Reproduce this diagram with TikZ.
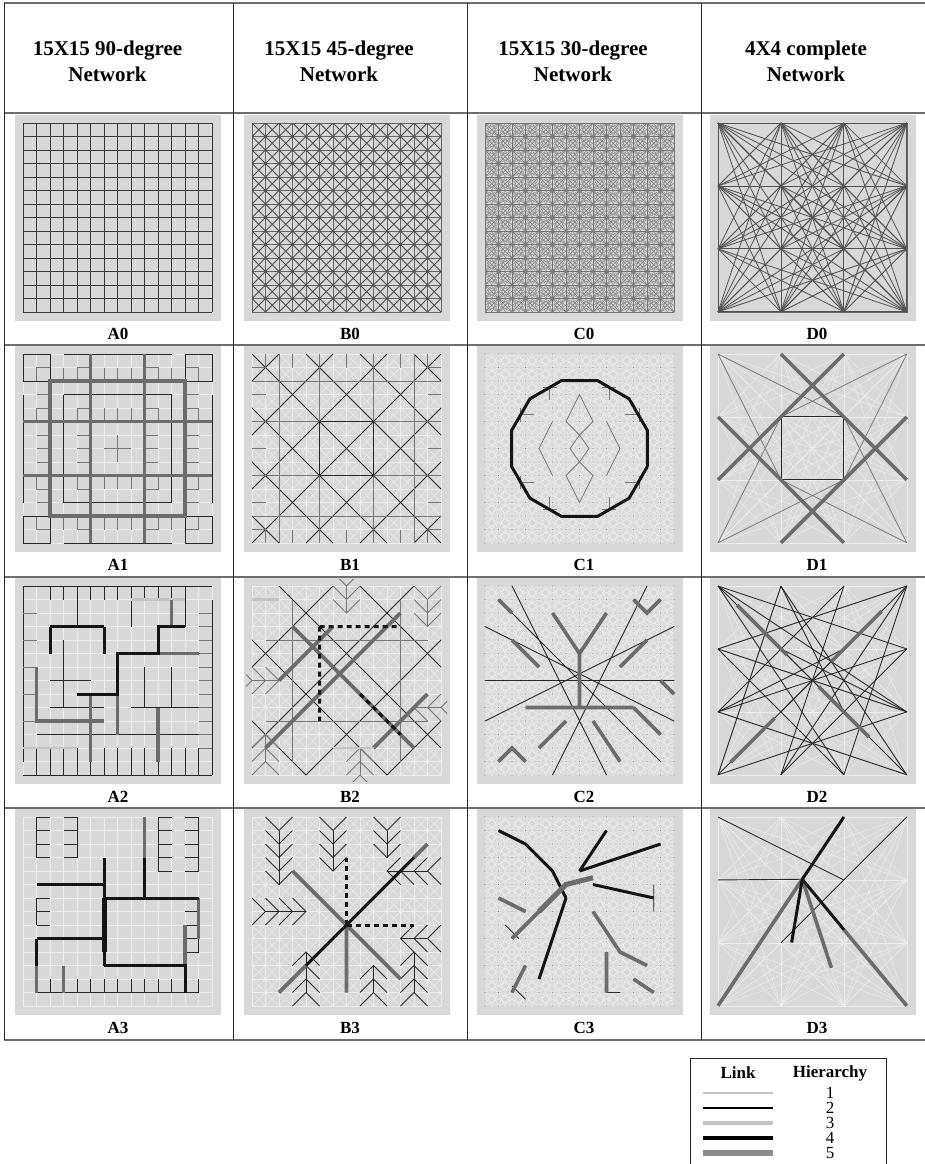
\documentclass[tikz,border=0pt]{standalone}
\usepackage{fontspec}
\setmainfont{Liberation Serif}
\usetikzlibrary{calc}
\definecolor{panelfill}{RGB}{216,216,216}
\definecolor{rulegray}{RGB}{110,110,110}
\definecolor{linkdark}{RGB}{40,40,40}
\definecolor{linkmid}{RGB}{85,85,85}
\definecolor{linklight}{RGB}{236,236,236}
\definecolor{linkgray}{RGB}{108,108,108}
\definecolor{linkpale}{RGB}{196,196,196}
\definecolor{legendgray}{RGB}{140,140,140}
\tikzset{
 tablerule/.style={rulegray,line width=1.3pt},
 colrule/.style={black!85,line width=0.9pt},
 basenet/.style={black!78,line width=1pt},
 faintnet/.style={linklight,line width=0.5pt},
 htwo/.style={linkdark,line width=0.9pt},
 hmid/.style={linkmid!80!white,line width=0.8pt},
 hthree/.style={linkpale,line width=2.4pt},
 hfour/.style={black!92,line width=3pt},
 hfive/.style={linkgray,line width=3.6pt},
 legone/.style={linkpale,line width=1.5pt},
 legtwo/.style={black,line width=1.5pt},
 legthree/.style={linkpale,line width=4pt},
 legfour/.style={black,line width=4.5pt},
 legfive/.style={legendgray,line width=5.5pt},
 headtext/.style={font=\bfseries\fontsize{21}{26}\selectfont,align=center,inner sep=0pt},
 celltext/.style={font=\bfseries\fontsize{17}{19}\selectfont,inner sep=0pt},
 legendtext/.style={font=\fontsize{17}{17}\selectfont,inner sep=0pt}
}
% base networks, in grid units 0..14
\newcommand{\gridnet}[1]{\foreach \i in {0,...,14}{\draw[#1] (\i,0)--(\i,14); \draw[#1] (0,\i)--(14,\i);}}
\newcommand{\diagnet}[1]{\begin{scope}\clip (0,0) rectangle (14,14);
 \foreach \c in {-14,...,14}{\draw[#1] (\c,0)--++(14,14);}
 \foreach \c in {0,...,28}{\draw[#1] (\c,0)--++(-14,14);}\end{scope}}
\newcommand{\knightnet}[1]{\begin{scope}\clip (0,0) rectangle (14,14);
 \foreach \c in {-28,...,14}{\draw[#1] (\c,0)--++(28,14); \draw[#1] (0,\c)--++(14,28);}
 \foreach \c in {0,...,42}{\draw[#1] (\c,0)--++(-28,14); \draw[#1] (0,\c)--++(14,-28);}\end{scope}}
\newcommand{\dnodes}{\foreach \a in {0,...,15}{\coordinate (d\a) at ({mod(\a,4)*14/3},{floor(\a/4)*14/3});}}
\newcommand{\completenet}[1]{\foreach \a in {0,...,15}{\foreach \b in {\a,...,15}{\draw[#1] (d\a)--(d\b);}}}
\newcommand{\nodedots}{\foreach \i in {0,...,14}{\foreach \j in {0,...,14}{\fill[black!45] (\i,\j) circle (0.05);}}}
\newcommand{\foursym}[1]{\foreach \sx/\sy in {1/1,-1/1,1/-1,-1/-1}{\begin{scope}[shift={(7,7)},xscale=\sx,yscale=\sy,shift={(-7,-7)}]#1\end{scope}}}
\newcommand{\fishbone}[5]{\draw[#5] (#1,#2)--(#1,#3);
 \foreach \yy in {#2,...,#3}{\draw[#5] ({#1-1},{\yy+(#4)})--(#1,\yy)--({#1+1},{\yy+(#4)});}}
\newcommand{\hfishbone}[5]{\draw[#5] (#2,#1)--(#3,#1);
 \foreach \xx in {#2,...,#3}{\draw[#5] ({\xx+(#4)},{#1-1})--(\xx,#1)--({\xx+(#4)},{#1+1});}}
\newcommand{\vcomb}[5]{\draw[#5] (#1,#2)--(#1,#3);
 \foreach \yy in {#2,...,#3}{\draw[#5] (#1,\yy)--({#1+(#4)},\yy);}}
\newcommand{\hcomb}[5]{\draw[#5] (#2,#1)--(#3,#1);
 \foreach \xx in {#2,...,#3}{\draw[#5] (\xx,#1)--(\xx,{#1+(#4)});}}

\begin{document}
\begin{tikzpicture}[x=1pt,y=-1pt]
\useasboundingbox (0,0) rectangle (925,1164);
\fill[white] (0,0) rectangle (925,1164);

% table
\foreach \ry in {3,113,345,577,808,1040}
 \draw[tablerule] (4,\ry)--(925,\ry);
\foreach \rx in {4.5,233.5,467,701}
 \draw[colrule] (\rx,3)--(\rx,1040);
\node[headtext] (headA) at (107.5,61) {15X15 90-degree\\Network};
\node[headtext] (headB) at (339,61) {15X15 45-degree\\Network};
\node[headtext] (headC) at (573,61) {15X15 30-degree\\Network};
\node[headtext] (headD) at (806,61) {4X4 complete\\Network};
\foreach \col/\cx in {A/118,B/350,C/584,D/817}
 \foreach \row/\ly in {0/334,1/565,2/797,3/1028}
  \node[celltext] (lab\col\row) at (\cx,\ly) {\col\row};
\foreach \px in {15,244,477,710}
 \foreach \py in {115,346,578,809}
  \fill[panelfill] (\px,\py) rectangle ++(206,206);

% row 0: full networks
\begin{scope}[shift={(23,123)},scale=13.5]
 \gridnet{basenet}
\end{scope}
\begin{scope}[shift={(252,123)},scale=13.5]
 \gridnet{black!60,line width=0.7pt}
 \diagnet{black!70,line width=0.8pt}
\end{scope}
\begin{scope}[shift={(485,123)},scale=13.5]
 \gridnet{black!55,line width=0.45pt}
 \diagnet{black!55,line width=0.45pt}
 \knightnet{black!50,line width=0.4pt}
\end{scope}
\begin{scope}[shift={(718,123)},scale=13.5]
 \dnodes
 \draw[black!60,line width=0.6pt] (d0) rectangle (d15);
 \completenet{black!68,line width=0.8pt}
\end{scope}

% row 1: symmetric hierarchies
\begin{scope}[shift={(23,354)},scale=13.5]
 \clip (-0.45,-0.45) rectangle (14.45,14.45);
 \gridnet{faintnet}
 \foursym{
  \draw[hmid] (2,1)--(1,1)--(1,2) (3,1)--(3,2) (4,2)--(4,1)--(5,1) (6,1)--(6,2) (7,1)--(7,2)
   (1,3)--(2,3) (2,4)--(1,4)--(1,5) (1,6)--(2,6) (1,7)--(2,7)
   (5,4)--(4,4)--(4,5) (6,4)--(6,5) (7,4)--(7,5) (4,6)--(5,6) (4,7)--(5,7) (6,7)--(7,7) (7,6)--(7,7);
  \draw[htwo] (0,0) rectangle (2,2) (3,0)--(7,0) (0,3)--(0,7) (3,3)--(7,3) (3,3)--(3,7);
 }
 \draw[hfive] (2,2) rectangle (12,12) (5,0)--(5,14) (9,0)--(9,14) (0,5)--(14,5) (0,9)--(14,9);
\end{scope}
\begin{scope}[shift={(252,354)},scale=13.5]
 \clip (-0.45,-0.45) rectangle (14.45,14.45);
 \gridnet{faintnet}
 \diagnet{faintnet}
 \begin{scope}
  \clip (0,0) rectangle (14,14);
  \foreach \c in {-12,-8,...,12}{\draw[htwo] (\c,0)--++(14,14);}
  \foreach \c in {2,6,...,26}{\draw[htwo] (\c,0)--++(-14,14);}
 \end{scope}
 \draw[hmid] (2,0)--(2,14) (12,0)--(12,14) (0,2)--(14,2) (0,12)--(14,12)
  (5,1)--(5,13) (9,1)--(9,13) (1,5)--(13,5) (1,9)--(13,9);
 \draw[htwo] (5,5) rectangle (9,9);
 \foreach \k in {1,3,...,13}{
  \draw[hmid] (\k,0)--(\k,1) (\k,14)--(\k,13) (0,\k)--(1,\k) (14,\k)--(13,\k);}
\end{scope}
\begin{scope}[shift={(485,354)},scale=13.5]
 \clip (-0.45,-0.45) rectangle (14.45,14.45);
 \knightnet{faintnet}
 \nodedots
 \draw[hmid] (7,3)--(6,5)--(7,6)--(8,5)--cycle (7,6)--(6.3,7)--(7,8)--(7.7,7)--cycle
  (7,8)--(6,9)--(7,11)--(8,9)--cycle (5,5)--(4,7)--(5,9) (9,5)--(10,7)--(9,9);
 \foursym{\draw[hmid] (2.6,4)--(2.6,5) (2.6,4.5)--(3.6,4.5) (4.3,2.5)--(5.3,2.5) (4.8,2.5)--(4.8,3.4);}
 \draw[hfour] plot[samples at={15,45,...,375}] ({7+5.2*cos(\x)},{7+5.2*sin(\x)});
\end{scope}
\begin{scope}[shift={(718,354)},scale=13.5]
 \clip (-0.45,-0.45) rectangle (14.45,14.45);
 \dnodes
 \completenet{faintnet}
 \draw[htwo] (d5)--(d6)--(d10)--(d9)--cycle;
 \draw[hmid] (d0)--(d6) (d0)--(d9) (d3)--(d5) (d3)--(d10) (d12)--(d5) (d12)--(d10) (d15)--(d6) (d15)--(d9);
 \draw[hfive] (d1)--(d11) (d2)--(d8) (d4)--(d14) (d7)--(d13);
\end{scope}

% row 2: second hierarchy
\begin{scope}[shift={(23,586)},scale=13.5]
 \clip (-0.45,-0.45) rectangle (14.45,14.45);
 \gridnet{faintnet}
 \draw[htwo] (0,0)--(14,0) (0,0)--(0,13) (0,14)--(14,14) (14,1)--(14,14);
 \foreach \x in {2,...,12}{\draw[htwo] (\x,0)--(\x,1);}
 \foreach \x in {1,...,13}{\draw[htwo] (\x,14)--(\x,12);}
 \foreach \y in {2,4,...,12}{\draw[hmid] (0,\y)--(1,\y);}
 \foreach \y in {2,...,12}{\draw[hmid] (14,\y)--(13,\y);}
 \draw[htwo] (1,11)--(13,11) (2,9)--(6,9) (8,9)--(13,9) (3,4)--(3,9) (9,6)--(9,9) (11,6)--(11,9)
  (12,3)--(12,1) (4,1)--(4,3) (8,1)--(8,3) (2,7)--(5,7);
 \draw[hthree] (0,12)--(4,12) (8,1)--(12,1);
 \draw[hfive] (1,6)--(1,10)--(6,10) (7,8)--(7,11) (10,5)--(13,5) (5,8)--(5,13) (10,9)--(10,13) (11,3)--(11,1);
 \draw[hfour] (2,3)--(6,3) (2,3)--(2,5) (6,3)--(6,5) (4,8)--(7,8)--(7,5)--(10,5)--(10,3)--(12,3);
\end{scope}
\begin{scope}[shift={(252,586)},scale=13.5]
 \clip (-0.45,-0.45) rectangle (14.45,14.45);
 \gridnet{faintnet}
 \diagnet{faintnet}
 \begin{scope}
  \clip (0,0) rectangle (14,14);
  \foreach \c in {-10,-4,2,8}{\draw[htwo] (\c,0)--++(14,14);}
  \foreach \c in {6,12,18,24}{\draw[htwo] (\c,0)--++(-14,14);}
 \end{scope}
 \draw[hmid] (3,1)--(3,13) (11,1)--(11,13) (1,10)--(13,10) (1,4)--(13,4);
 \fishbone{7}{0}{2}{-1}{hmid}
 \fishbone{13}{1}{3}{-1}{hmid}
 \fishbone{1}{13}{11}{1}{hmid}
 \fishbone{8}{14}{12}{1}{hmid}
 \hfishbone{7}{0}{2}{-1}{hmid}
 \hfishbone{9}{14}{12}{1}{hmid}
 \draw[hfive] (1,12)--(11,2) (3,3)--(12,12) (2,7)--(6,3) (9,12)--(13,8);
 \draw[hthree] (6,12)--(9,12) (0,1)--(2,1);
 \draw[hfour,dash pattern=on 5pt off 4pt] (5,3)--(11,3) (5,3)--(5,10) (8,8)--(11,11);
\end{scope}
\begin{scope}[shift={(485,586)},scale=13.5]
 \clip (-0.45,-0.45) rectangle (14.45,14.45);
 \knightnet{faintnet}
 \nodedots
 \draw[htwo] (0,3)--(14,10) (0,10)--(14,3) (2,0)--(9,14) (12,0)--(5,14) (0,7)--(14,7) (1,1)--(13,13);
 \draw[hfive] (5,2)--(7,5)--(9,2) (7,5)--(7,9) (3,9)--(7,9)--(11,9) (2,4)--(4,6) (10,6)--(12,4)
  (4,12)--(6,10) (8,10)--(10,13) (11,9)--(13,11) (1,13)--(2,12)--(3,13) (11,1)--(12,2)--(13,1)
  (1,1)--(2,2) (13,7)--(14,8);
\end{scope}
\begin{scope}[shift={(718,586)},scale=13.5]
 \clip (-0.45,-0.45) rectangle (14.45,14.45);
 \dnodes
 \completenet{faintnet}
 \foreach \a/\b in {0/7,0/14,1/12,1/15,2/8,2/13,3/4,3/13,4/11,7/8,8/15,11/12,6/12,5/15,1/10,13/7,14/4,5/11,6/8,0/11,3/14,9/3,10/0}
  {\draw[htwo] (d\a)--(d\b);}
 \draw[hfive] ($(d0)!0.15!(d10)$)--($(d0)!0.55!(d10)$) ($(d3)!0.2!(d9)$)--($(d3)!0.6!(d9)$)
  ($(d12)!0.1!(d6)$)--($(d12)!0.45!(d6)$) ($(d15)!0.3!(d5)$)--($(d15)!0.7!(d5)$);
\end{scope}

% row 3: top hierarchy
\begin{scope}[shift={(23,817)},scale=13.5]
 \clip (-0.45,-0.45) rectangle (14.45,14.45);
 \gridnet{faintnet}
 \vcomb{1}{0}{3}{1}{htwo}
 \vcomb{4}{0}{3}{-1}{htwo}
 \vcomb{10}{0}{4}{1}{htwo}
 \vcomb{13}{0}{4}{-1}{htwo}
 \vcomb{1}{6}{8}{1}{htwo}
 \vcomb{13}{7}{10}{-1}{htwo}
 \hcomb{13}{1}{13}{-1}{htwo}
 \draw[hfive] (3,11)--(3,13) (12,8)--(12,11) (9,0)--(9,3) (1,11)--(1,13) (13,6)--(13,9);
 \draw[hfour] (1,5)--(6,5) (6,3)--(6,11) (6,6)--(13,6) (9,3)--(9,6) (1,9)--(6,9) (1,9)--(1,11)
  (6,11)--(12,11)--(12,13);
 \draw[hfour,line width=5pt] (6,6)--(6,10);
\end{scope}
\begin{scope}[shift={(252,817)},scale=13.5]
 \clip (-0.45,-0.45) rectangle (14.45,14.45);
 \gridnet{faintnet}
 \diagnet{faintnet}
 \fishbone{2}{1}{5}{-1}{htwo}
 \fishbone{6}{1}{4}{-1}{htwo}
 \fishbone{10}{1}{3}{-1}{htwo}
 \fishbone{4}{13}{10}{1}{htwo}
 \fishbone{9}{13}{11}{1}{htwo}
 \fishbone{12}{13}{10}{1}{htwo}
 \hfishbone{7}{1}{4}{-1}{htwo}
 \hfishbone{4}{13}{10}{1}{htwo}
 \hfishbone{9}{13}{11}{1}{htwo}
 \draw[hfive] (7,8)--(3,4) (7,8)--(11,12) (4,11)--(2,13) (12,3)--(13,2) (7,8)--(7,13);
 \draw[hfour] (7,8)--(12,3) (7,8)--(4,11);
 \draw[hfour,dash pattern=on 5pt off 4pt] (7,8)--(12,8) (7,8)--(7,3);
\end{scope}
\begin{scope}[shift={(485,817)},scale=13.5]
 \clip (-0.45,-0.45) rectangle (14.45,14.45);
 \knightnet{faintnet}
 \nodedots
 \draw[htwo] (12.5,5)--(12.5,7) (1.5,8)--(2.5,9) (9,13)--(10,13) (2,12.5)--(3,13.5);
 \draw[hfive] (8,7)--(10,10)--(12,11) (2,9)--(4,7) (9,10)--(9,13) (3,11)--(2,13) (1,6)--(3,7) (11,12)--(12.5,13);
 \draw[hfour] (1,1)--(3,2)--(5,4)--(6,6) (7,4)--(13,2) (7,4)--(9,1) (8,5)--(12.5,6) (6,6)--(5,9)--(4,12);
 \draw[hfive,line width=5pt] (4,7)--(6,5)--(8,4.5);
\end{scope}
\begin{scope}[shift={(718,817)},scale=13.5]
 \clip (-0.45,-0.45) rectangle (14.45,14.45);
 \dnodes
 \completenet{faintnet}
 \coordinate (hub) at ($(d2)!0.33!(d12)$);
 \draw[htwo] (d0)--(d6) (d3)--(d9) (d4)--(hub);
 \draw[hfive] (hub)--(d12) ($(hub)!0.4!(d15)$)--(d15) (hub)--($(hub)!0.7!(d14)$);
 \draw[hfour] (d2)--(hub) (hub)--($(hub)!0.5!(d13)$) (hub)--($(hub)!0.4!(d15)$);
\end{scope}

% legend
\draw[colrule] (690,1170)--(690,1058)--(886,1058)--(886,1170);
\node[celltext] (linkhead) at (738,1073) {Link};
\node[celltext] (hierhead) at (830,1073) {Hierarchy};
\foreach \k/\st in {1/legone,2/legtwo,3/legthree,4/legfour,5/legfive}{
 \draw[\st] (703,{1078+15*\k})--(773,{1078+15*\k});
 \node[legendtext] (num\k) at (830,{1078+15*\k}) {\k};
}
\end{tikzpicture}
\end{document}
